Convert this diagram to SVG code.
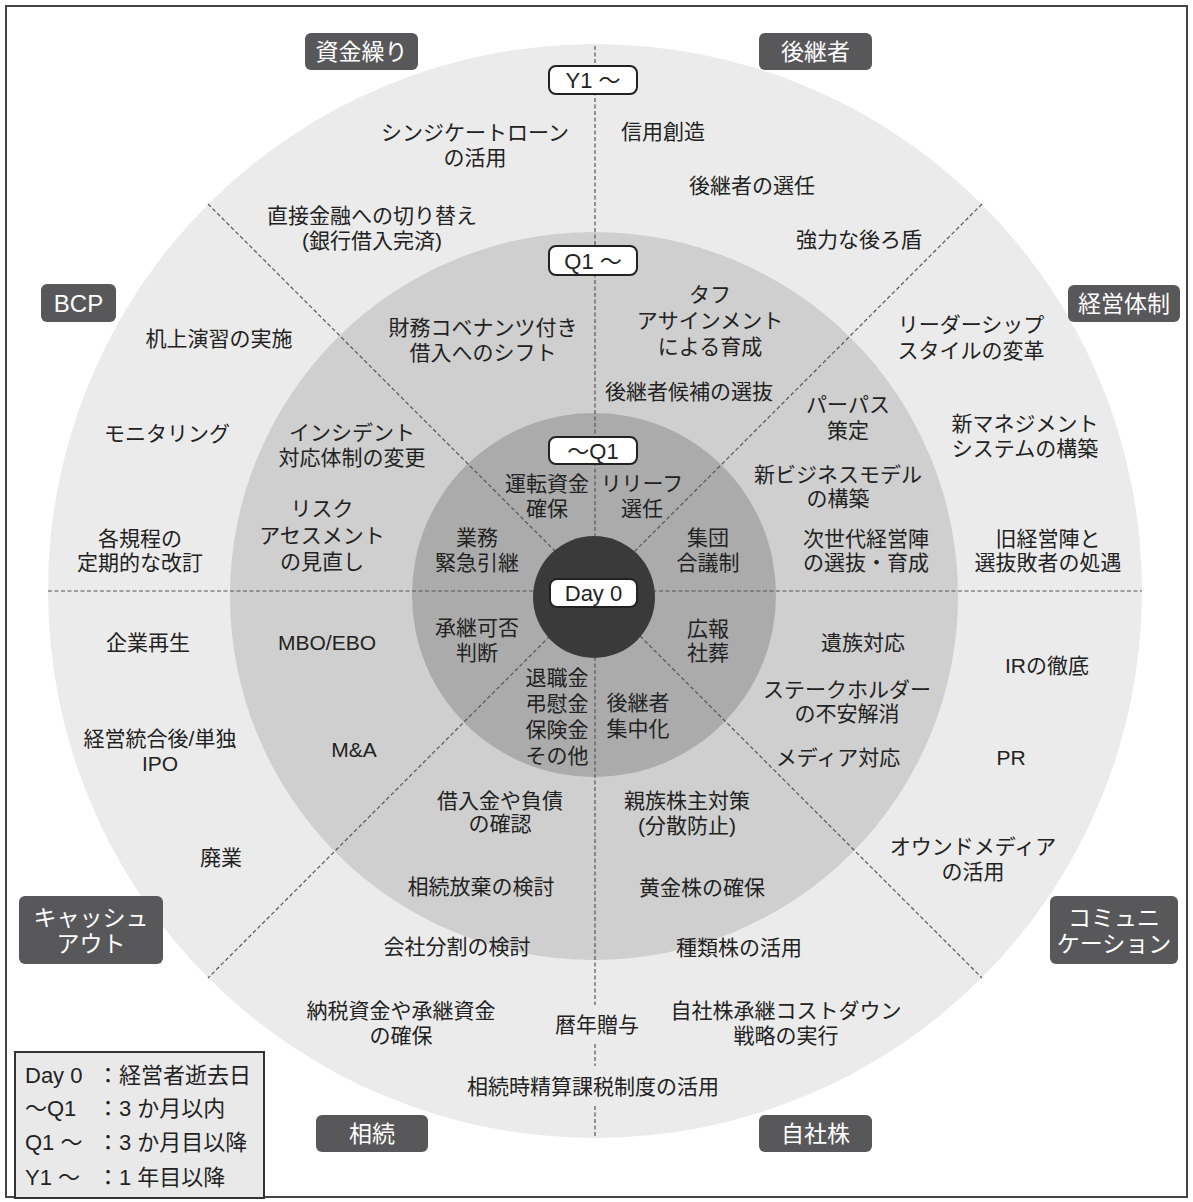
<svg xmlns="http://www.w3.org/2000/svg" width="1193" height="1202" viewBox="0 0 1193 1202">
<style>
text{font-family:"Liberation Sans","Noto Sans CJK JP","Noto Sans",sans-serif;}
.t{font-size:21px;fill:#222;text-anchor:middle;}
.cat rect{fill:#58585a;}
.cat text{font-size:23px;fill:#fff;text-anchor:middle;}
.time rect{fill:#fff;stroke:#222;stroke-width:2;}
.time text{font-size:22px;fill:#222;text-anchor:middle;}
.div line{stroke:#555;stroke-width:1.2;stroke-dasharray:4 2.5;}
.leg{font-size:22px;fill:#222;}
</style>
<rect x="0" y="0" width="1193" height="1202" fill="#fff"/>
<rect x="6" y="6" width="1181" height="1191" fill="#fff" stroke="#444" stroke-width="2"/>
<g id="rings">
<circle cx="595" cy="591" r="547" fill="#ebebeb"/>
<circle cx="594" cy="596" r="364" fill="#cfcfcf"/>
<circle cx="594" cy="595" r="182" fill="#ababab"/>
</g>
<g id="dividers" class="div">
<line x1="48" y1="591" x2="1142" y2="591"/>
<line x1="595" y1="46" x2="595" y2="1005"/>
<line x1="595" y1="1044" x2="595" y2="1066"/>
<line x1="595" y1="1106" x2="595" y2="1138"/>
<line x1="208" y1="204" x2="982" y2="978"/>
<line x1="982" y1="204" x2="208" y2="978"/>
</g>
<circle id="day0-core" cx="594" cy="597" r="61" fill="#3a3a3a"/>
<g id="time-labels" class="time">
<g id="t-y1"><rect x="549" y="66" width="88" height="28" rx="7"/><text x="593" y="88">Y1 ～</text></g>
<g id="t-q1after"><rect x="549" y="246" width="88" height="29" rx="7"/><text x="593" y="268.5">Q1 ～</text></g>
<g id="t-q1within"><rect x="549" y="437" width="88" height="27" rx="7"/><text x="593" y="459">～Q1</text></g>
<g id="t-day0"><rect x="550" y="579" width="87" height="28" rx="7"/><text x="593.5" y="601">Day 0</text></g>
</g>
<g id="categories" class="cat">
<g id="c-shikin"><rect x="305" y="33" width="113" height="37" rx="6"/><text x="361.5" y="60">資金繰り</text></g>
<g id="c-koukei"><rect x="759" y="33" width="113" height="37" rx="6"/><text x="815.5" y="60">後継者</text></g>
<g id="c-bcp"><rect x="41" y="284" width="75" height="38" rx="6"/><text x="78.5" y="312" style="font-size:24px">BCP</text></g>
<g id="c-keiei"><rect x="1068" y="285" width="112" height="37" rx="6"/><text x="1124" y="312">経営体制</text></g>
<g id="c-cash"><rect x="19" y="896" width="144" height="68" rx="6"/><text><tspan x="91" y="925.5">キャッシュ</tspan><tspan x="91" y="951.5">アウト</tspan></text></g>
<g id="c-comm"><rect x="1050" y="896" width="128" height="68" rx="6"/><text><tspan x="1114" y="925.5">コミュニ</tspan><tspan x="1114" y="951.5">ケーション</tspan></text></g>
<g id="c-souzoku"><rect x="316" y="1115" width="112" height="37" rx="6"/><text x="372" y="1142">相続</text></g>
<g id="c-jisha"><rect x="759" y="1115" width="113" height="37" rx="6"/><text x="815.5" y="1142">自社株</text></g>
</g>
<g id="items" class="t">
<g id="n-syndicate"><text><tspan x="475" y="139.5">シンジケートローン</tspan><tspan x="475" y="164.5">の活用</tspan></text></g>
<g id="n-direct"><text><tspan x="372" y="222.5">直接金融への切り替え</tspan><tspan x="372" y="247.5">(銀行借入完済)</tspan></text></g>
<g id="n-covenant"><text><tspan x="483" y="334.5">財務コベナンツ付き</tspan><tspan x="483" y="359.5">借入へのシフト</tspan></text></g>
<g id="n-unten"><text><tspan x="547" y="490.5">運転資金</tspan><tspan x="547" y="515.5">確保</tspan></text></g>
<g id="n-shinyou"><text x="663" y="138.5">信用創造</text></g>
<g id="n-sennin"><text x="752" y="192.5">後継者の選任</text></g>
<g id="n-ushirodate"><text x="859" y="246.5">強力な後ろ盾</text></g>
<g id="n-tough"><text><tspan x="710" y="301.5">タフ</tspan><tspan x="710" y="327.5">アサインメント</tspan><tspan x="710" y="353.5">による育成</tspan></text></g>
<g id="n-kouho"><text x="689" y="398.5">後継者候補の選抜</text></g>
<g id="n-relief"><text><tspan x="642" y="490.5">リリーフ</tspan><tspan x="642" y="515.5">選任</tspan></text></g>
<g id="n-leadership"><text><tspan x="971" y="331.5">リーダーシップ</tspan><tspan x="971" y="357.5">スタイルの変革</tspan></text></g>
<g id="n-newmgmt"><text><tspan x="1025" y="430.5">新マネジメント</tspan><tspan x="1025" y="455.5">システムの構築</tspan></text></g>
<g id="n-old"><text><tspan x="1048" y="545.5">旧経営陣と</tspan><tspan x="1048" y="569.5">選抜敗者の処遇</tspan></text></g>
<g id="n-purpose"><text><tspan x="848" y="411.5">パーパス</tspan><tspan x="848" y="437.5">策定</tspan></text></g>
<g id="n-bizmodel"><text><tspan x="838" y="481.5">新ビジネスモデル</tspan><tspan x="838" y="505.5">の構築</tspan></text></g>
<g id="n-nextgen"><text><tspan x="866" y="545.5">次世代経営陣</tspan><tspan x="866" y="569.5">の選抜・育成</tspan></text></g>
<g id="n-shuudan"><text><tspan x="708" y="544.5">集団</tspan><tspan x="708" y="569.5">合議制</tspan></text></g>
<g id="n-kijou"><text x="219" y="345.5">机上演習の実施</text></g>
<g id="n-monitoring"><text x="167" y="440.5">モニタリング</text></g>
<g id="n-kitei"><text><tspan x="140" y="545.5">各規程の</tspan><tspan x="140" y="569.5">定期的な改訂</tspan></text></g>
<g id="n-incident"><text><tspan x="352" y="439.5">インシデント</tspan><tspan x="352" y="464.5">対応体制の変更</tspan></text></g>
<g id="n-risk"><text><tspan x="322" y="515.5">リスク</tspan><tspan x="322" y="542.5">アセスメント</tspan><tspan x="322" y="568.5">の見直し</tspan></text></g>
<g id="n-gyoumu"><text><tspan x="477" y="544.5">業務</tspan><tspan x="477" y="569.5">緊急引継</tspan></text></g>
<g id="n-saisei"><text x="148" y="649.5">企業再生</text></g>
<g id="n-ipo"><text><tspan x="160" y="745.5">経営統合後/単独</tspan><tspan x="160" y="770.5">IPO</tspan></text></g>
<g id="n-haigyou"><text x="221" y="864.5">廃業</text></g>
<g id="n-mbo"><text x="327" y="649.5">MBO/EBO</text></g>
<g id="n-ma"><text x="354" y="756.5">M&amp;A</text></g>
<g id="n-shoukei"><text><tspan x="477" y="634.5">承継可否</tspan><tspan x="477" y="659.5">判断</tspan></text></g>
<g id="n-kariire"><text><tspan x="500" y="807.5">借入金や負債</tspan><tspan x="500" y="830.5">の確認</tspan></text></g>
<g id="n-houki"><text x="481" y="893.5">相続放棄の検討</text></g>
<g id="n-bunkatsu"><text x="457" y="953.5">会社分割の検討</text></g>
<g id="n-nouzei"><text><tspan x="401" y="1017.5">納税資金や承継資金</tspan><tspan x="401" y="1042.5">の確保</tspan></text></g>
<g id="n-rekinen"><text x="597" y="1031.5">暦年贈与</text></g>
<g id="n-seisan"><text x="593" y="1093.5">相続時精算課税制度の活用</text></g>
<g id="n-taishoku"><text><tspan x="557" y="684.5">退職金</tspan><tspan x="557" y="710.5">弔慰金</tspan><tspan x="557" y="736.5">保険金</tspan><tspan x="557" y="762.5">その他</tspan></text></g>
<g id="n-shinzoku"><text><tspan x="687" y="807.5">親族株主対策</tspan><tspan x="687" y="832.5">(分散防止)</tspan></text></g>
<g id="n-ougon"><text x="702" y="894.5">黄金株の確保</text></g>
<g id="n-shurui"><text x="739" y="954.5">種類株の活用</text></g>
<g id="n-costdown"><text><tspan x="786" y="1017.5">自社株承継コストダウン</tspan><tspan x="786" y="1042.5">戦略の実行</tspan></text></g>
<g id="n-shuchuu"><text><tspan x="638" y="709.5">後継者</tspan><tspan x="638" y="735.5">集中化</tspan></text></g>
<g id="n-ir"><text x="1047" y="672.5">IRの徹底</text></g>
<g id="n-pr"><text x="1011" y="764.5">PR</text></g>
<g id="n-owned"><text><tspan x="973" y="853.5">オウンドメディア</tspan><tspan x="973" y="878.5">の活用</tspan></text></g>
<g id="n-izoku"><text x="863" y="649.5">遺族対応</text></g>
<g id="n-stake"><text><tspan x="847" y="696.5">ステークホルダー</tspan><tspan x="847" y="720.5">の不安解消</tspan></text></g>
<g id="n-media"><text x="838" y="764.5">メディア対応</text></g>
<g id="n-kouhou"><text><tspan x="708" y="635.5">広報</tspan><tspan x="708" y="659.5">社葬</tspan></text></g>
</g>
<g id="legend">
<rect x="15" y="1052" width="249" height="146" fill="#e9e9ea" stroke="#333" stroke-width="2"/>
<text class="leg"><tspan x="25" y="1083">Day 0</tspan><tspan x="97" y="1083">：経営者逝去日</tspan></text>
<text class="leg"><tspan x="25" y="1116">～Q1</tspan><tspan x="97" y="1116">：3 か月以内</tspan></text>
<text class="leg"><tspan x="25" y="1150">Q1 ～</tspan><tspan x="97" y="1150">：3 か月目以降</tspan></text>
<text class="leg"><tspan x="25" y="1185">Y1 ～</tspan><tspan x="97" y="1185">：1 年目以降</tspan></text>
</g>
</svg>
